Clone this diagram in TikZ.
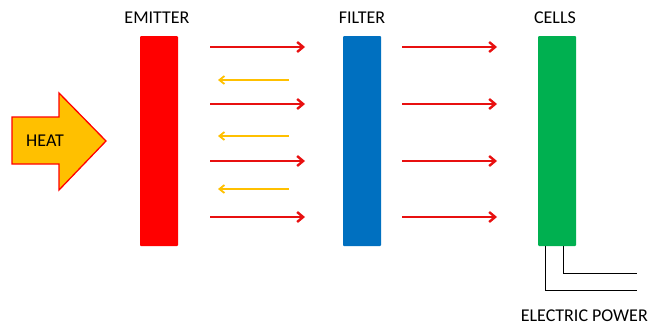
\documentclass[tikz,border=0pt]{standalone}
\usepackage{fontspec}
\setmainfont{Carlito}
\usetikzlibrary{arrows.meta}
\definecolor{heatyel}{HTML}{FFC000}
\definecolor{emred}{HTML}{FF0000}
\definecolor{filblue}{HTML}{0070C0}
\definecolor{cellgreen}{HTML}{00B050}
\definecolor{arrred}{HTML}{E81010}
\begin{document}
\begin{tikzpicture}[x=1pt,y=-1pt,
  bar/.style={inner sep=0pt,minimum width=38pt,minimum height=210pt,rounded corners=1pt},
  lbl/.style={font=\fontsize{18}{20}\selectfont,inner sep=0pt},
  fwd/.style={draw=arrred,line width=2.4pt,-{Straight Barb[length=6pt,width=10pt]}},
  back/.style={draw=heatyel,line width=1.8pt,-{Straight Barb[length=5pt,width=8pt]}},
  wire/.style={draw=black,line width=1pt}]
\useasboundingbox (0,0) rectangle (648,327);
% bars
\node[bar,fill=emred] (em) at (159,141) {};
\node[bar,fill=filblue] (fi) at (362,141) {};
\node[bar,fill=cellgreen] (ce) at (557,141) {};
% labels
\node[lbl] (eml) at (157,18) {EMITTER};
\node[lbl] (fil) at (362,18) {FILTER};
\node[lbl] (cel) at (555,18) {CELLS};
\node[lbl,anchor=east] (ep) at (648,316) {ELECTRIC POWER};
% heat arrow
\draw[draw=emred,fill=heatyel,line width=1.3pt,line join=miter]
  (12,117) -- (59,117) -- (59,93) -- (106,141) -- (59,190) -- (59,164) -- (12,164) -- cycle;
\node[lbl] (heat) at (45,141) {HEAT};
% forward arrows
\foreach \y [count=\i] in {47,104,161,217}{
  \coordinate (a\i) at (210,\y); \coordinate (b\i) at (305,\y);
  \coordinate (c\i) at (402,\y); \coordinate (d\i) at (497,\y);
  \draw[fwd] (a\i) -- (b\i);
  \draw[fwd] (c\i) -- (d\i);
}
% backward arrows
\foreach \y [count=\i] in {80,136,189}{
  \coordinate (r\i) at (289,\y); \coordinate (l\i) at (218,\y);
  \draw[back] (r\i) -- (l\i);
}
% wires
\coordinate (w1) at (545,246); \coordinate (w1e) at (637,290);
\coordinate (w2) at (563,246); \coordinate (w2e) at (637,273);
\draw[wire] (w1) |- (w1e);
\draw[wire] (w2) |- (w2e);
\end{tikzpicture}
\end{document}
